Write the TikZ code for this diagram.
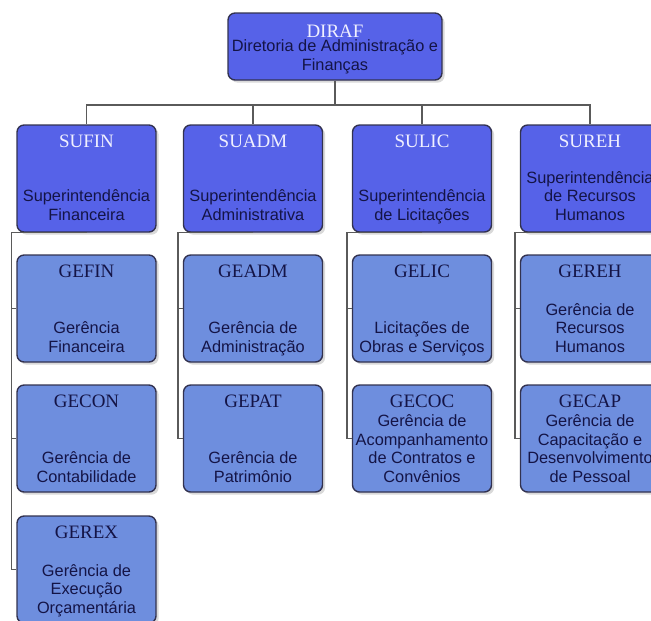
\documentclass[tikz,border=0pt]{standalone}
\usepackage{fontspec}
\setmainfont{Liberation Sans}
\newfontfamily\titlefont{Liberation Serif}
\usepackage{tikz}
\usetikzlibrary{positioning,shadows}

\definecolor{supblue}{RGB}{86,98,232}
\definecolor{gerblue}{RGB}{110,142,222}
\definecolor{boxline}{RGB}{50,50,80}
\definecolor{linegray}{RGB}{90,90,90}
\definecolor{headwhite}{RGB}{240,240,255}
\definecolor{textnavy}{RGB}{20,20,70}

\tikzset{
  orgbox/.style={rounded corners=4pt, draw=boxline, line width=0.8pt,
    minimum width=2.78cm, minimum height=2.14cm, inner sep=0pt,
    drop shadow={shadow xshift=1.5pt, shadow yshift=-1.5pt, opacity=0.3}},
  supbox/.style={orgbox, fill=supblue},
  gerbox/.style={orgbox, fill=gerblue},
  dirbox/.style={supbox, minimum width=4.28cm, minimum height=1.34cm},
  head/.style={inner sep=0pt, font=\titlefont\fontsize{10.8}{12}\selectfont},
  supname/.style={head, text=headwhite},
  gername/.style={head, text=textnavy},
  body/.style={inner sep=0pt, align=center, text=textnavy,
    font=\fontsize{9.3}{10.6}\selectfont, execute at end node=\strut},
  link/.style={draw=linegray, line width=0.8pt}
}

\begin{document}
\begin{tikzpicture}[x=0.02cm, y=-0.02cm]
	\useasboundingbox (0,0) rectangle (651,620);
	% diretoria
	\node[dirbox] (diraf) at (335,46.5) {};
	\node[supname, below=0.24cm of diraf.north] (diraft) {DIRAF};
	\node[body, above=0.09cm of diraf.south] (dirafb) {Diretoria de Administração e\\Finanças};
	% superintendencias
	\node[supbox] (sufin) at (86.5,178.5) {};
	\node[supbox] (suadm) at (253,178.5) {};
	\node[supbox] (sulic) at (422,178.5) {};
	\node[supbox] (sureh) at (590,178.5) {};
	\node[supname, below=0.21cm of sufin.north] (sufint) {SUFIN};
	\node[supname, below=0.21cm of suadm.north] (suadmt) {SUADM};
	\node[supname, below=0.21cm of sulic.north] (sulict) {SULIC};
	\node[supname, below=0.21cm of sureh.north] (sureht) {SUREH};
	\node[body, above=0.13cm of sufin.south] (sufinb) {Superintendência\\Financeira};
	\node[body, above=0.13cm of suadm.south] (suadmb) {Superintendência\\Administrativa};
	\node[body, above=0.13cm of sulic.south] (sulicb) {Superintendência\\de Licitações};
	\node[body, above=0.13cm of sureh.south] (surehb) {Superintendência\\de Recursos\\Humanos};
	% gerencias
	\node[gerbox] (gefin) at (86.5,308.5) {};
	\node[gerbox] (gecon) at (86.5,438.5) {};
	\node[gerbox] (gerex) at (86.5,569.5) {};
	\node[gerbox] (geadm) at (253,308.5) {};
	\node[gerbox] (gepat) at (253,438.5) {};
	\node[gerbox] (gelic) at (422,308.5) {};
	\node[gerbox] (gecoc) at (422,438.5) {};
	\node[gerbox] (gereh) at (590,308.5) {};
	\node[gerbox] (gecap) at (590,438.5) {};
	\node[gername, below=0.2cm of gefin.north] (gefint) {GEFIN};
	\node[gername, below=0.2cm of gecon.north] (geconbt) {GECON};
	\node[gername, below=0.2cm of gerex.north] (gerext) {GEREX};
	\node[gername, below=0.2cm of geadm.north] (geadmt) {GEADM};
	\node[gername, below=0.2cm of gepat.north] (gepatt) {GEPAT};
	\node[gername, below=0.2cm of gelic.north] (gelict) {GELIC};
	\node[gername, below=0.2cm of gecoc.north] (gecoct) {GECOC};
	\node[gername, below=0.2cm of gereh.north] (gereht) {GEREH};
	\node[gername, below=0.2cm of gecap.north] (gecapt) {GECAP};
	\node[body, above=0.09cm of gefin.south] (gefinb) {Gerência\\Financeira};
	\node[body, above=0.09cm of gecon.south] (geconb) {Gerência de\\Contabilidade};
	\node[body, above=0.09cm of gerex.south] (gerexb) {Gerência de\\Execução\\Orçamentária};
	\node[body, above=0.09cm of geadm.south] (geadmb) {Gerência de\\Administração};
	\node[body, above=0.09cm of gepat.south] (gepatb) {Gerência de\\Patrimônio};
	\node[body, above=0.09cm of gelic.south] (gelicb) {Licitações de\\Obras e Serviços};
	\node[body, above=0.09cm of gecoc.south] (gecocb) {Gerência de\\Acompanhamento\\de Contratos e\\Convênios};
	\node[body, above=0.09cm of gereh.south] (gerehb) {Gerência de\\Recursos\\Humanos};
	\node[body, above=0.09cm of gecap.south] (gecapb) {Gerência de\\Capacitação e\\Desenvolvimento\\de Pessoal};
	% ligacoes diretoria -> superintendencias
	\coordinate (bus) at (335,105);
	\draw[link] (diraf.south) -- (bus);
	\draw[link] (bus) -| (sufin.north);
	\draw[link] (bus) -| (suadm.north);
	\draw[link] (bus) -| (sulic.north);
	\draw[link] (bus) -| (sureh.north);
	% ligacoes superintendencias -> gerencias
	\draw[link] (sufin.south) -| ([xshift=-0.1cm]gefin.west) -- (gefin.west);
	\draw[link] (sufin.south) -| ([xshift=-0.1cm]gecon.west) -- (gecon.west);
	\draw[link] (sufin.south) -| ([xshift=-0.1cm]gerex.west) -- (gerex.west);
	\draw[link] (suadm.south) -| ([xshift=-0.1cm]geadm.west) -- (geadm.west);
	\draw[link] (suadm.south) -| ([xshift=-0.1cm]gepat.west) -- (gepat.west);
	\draw[link] (sulic.south) -| ([xshift=-0.1cm]gelic.west) -- (gelic.west);
	\draw[link] (sulic.south) -| ([xshift=-0.1cm]gecoc.west) -- (gecoc.west);
	\draw[link] (sureh.south) -| ([xshift=-0.1cm]gereh.west) -- (gereh.west);
	\draw[link] (sureh.south) -| ([xshift=-0.1cm]gecap.west) -- (gecap.west);
\end{tikzpicture}
\end{document}
